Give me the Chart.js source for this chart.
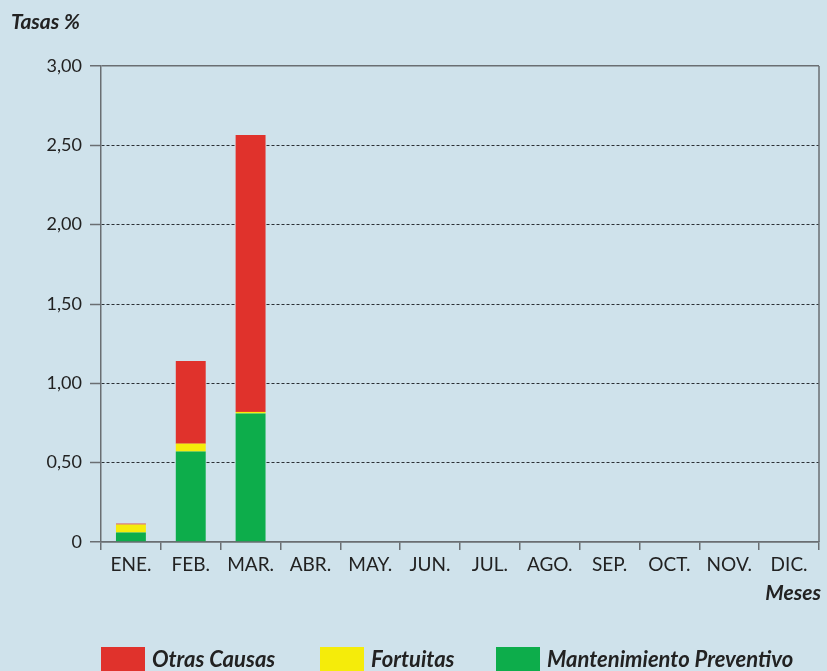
<!DOCTYPE html>
<html>
<head>
<meta charset="utf-8">
<script src="https://cdn.jsdelivr.net/npm/chart.js@4/dist/chart.umd.min.js"></script>
<style>
  html, body { margin: 0; padding: 0; background: #cfe2eb; }
  #wrap { position: relative; width: 827px; height: 671px; overflow: hidden; font-family: Lato, "Open Sans", sans-serif; color: #222; }
  #grafico { position: absolute; left: 0; top: 0; }
  .rotulo { position: absolute; font-weight: bold; font-style: italic; font-size: 21px; line-height: 24px; }
  .leyenda { position: absolute; top: 647px; height: 24px; display: flex; align-items: center; font-weight: bold; font-style: italic; font-size: 22px; line-height: 24px; }
  .leyenda span.caja { display: inline-block; width: 44px; height: 24px; margin-right: 7px; }
</style>
</head>
<body>
<div id="wrap">
  <canvas id="grafico" width="827" height="671"></canvas>
  <div class="rotulo" style="left:11px; top:9px;">Tasas %</div>
  <div class="rotulo" style="right:6px; top:580px;">Meses</div>
  <div id="leyendas"></div>
</div>
<script>
const meses = ['ENE.', 'FEB.', 'MAR.', 'ABR.', 'MAY.', 'JUN.', 'JUL.', 'AGO.', 'SEP.', 'OCT.', 'NOV.', 'DIC.'];
const mantenimiento = [0.06, 0.57, 0.81, null, null, null, null, null, null, null, null, null];
const fortuitas = [0.05, 0.05, 0.01, null, null, null, null, null, null, null, null, null];
const otras = [0.006, 0.52, 1.745, null, null, null, null, null, null, null, null, null];
const yTicks = [0, 0.5, 1, 1.5, 2, 2.5, 3];
const yLabels = ['0', '0,50', '1,00', '1,50', '2,00', '2,50', '3,00'];

const rojo = '#e0322c', amarillo = '#f5ec0a', verde = '#0dad4b';

// leyenda (orden de la imagen)
const leyenda = [
    { texto: 'Otras Causas', color: rojo, x: 101 },
    { texto: 'Fortuitas', color: amarillo, x: 320 },
    { texto: 'Mantenimiento Preventivo', color: verde, x: 496 }
];
const cont = document.getElementById('leyendas');
leyenda.forEach(l => {
    const d = document.createElement('div');
    d.className = 'leyenda';
    d.style.left = l.x + 'px';
    d.innerHTML = `<span class="caja" style="background:${l.color}"></span>${l.texto}`;
    cont.appendChild(d);
});

const bordeDerecho = {
    id: 'bordeDerecho',
    afterDraw(chart) {
        const { ctx, chartArea } = chart;
        ctx.save();
        ctx.strokeStyle = '#6a6e72';
        ctx.lineWidth = 1.5;
        ctx.beginPath();
        ctx.moveTo(chartArea.right, chartArea.top);
        ctx.lineTo(chartArea.right, chartArea.bottom);
        ctx.stroke();
        ctx.restore();
    }
};

const familia = 'Lato, "Open Sans", sans-serif';

const config = {
    type: 'bar',
    data: {
        labels: meses,
        datasets: [
            { label: 'Mantenimiento Preventivo', data: mantenimiento, backgroundColor: verde },
            { label: 'Fortuitas', data: fortuitas, backgroundColor: amarillo },
            { label: 'Otras Causas', data: otras, backgroundColor: rojo }
        ]
    },
    options: {
        responsive: false,
        animation: false,
        layout: { padding: { top: 66, right: 8, left: 0, bottom: 0 } },
        datasets: { bar: { barPercentage: 0.5, categoryPercentage: 1 } },
        plugins: { legend: { display: false }, tooltip: { enabled: false } },
        scales: {
            x: {
                stacked: true,
                grid: { display: true, drawOnChartArea: false, drawTicks: true, tickLength: 8, color: '#6a6e72', lineWidth: 1.5, offset: true },
                border: { color: '#6a6e72', width: 1.5 },
                ticks: { color: '#222', font: { family: familia, size: 19 }, padding: 3, maxRotation: 0, autoSkip: false },
                afterFit: s => { s.height = 129; }
            },
            y: {
                stacked: true,
                min: 0,
                max: 3,
                afterBuildTicks: s => { s.ticks = yTicks.map(v => ({ value: v })); },
                grid: {
                    color: c => c.tick && (c.tick.value === 3 || c.tick.value === 0) ? '#6a6e72' : '#2b3035',
                    lineWidth: c => c.tick && (c.tick.value === 3 || c.tick.value === 0) ? 1.5 : 1,
                    tickColor: '#6a6e72',
                    tickWidth: 1.5,
                    tickLength: 11
                },
                border: {
                    color: '#6a6e72',
                    width: 1.5,
                    dash: c => c.tick && c.tick.value > 0 && c.tick.value < 3 ? [3, 2] : []
                },
                ticks: {
                    color: '#222',
                    font: { family: familia, size: 18 },
                    padding: 8,
                    callback: v => yLabels[yTicks.indexOf(v)]
                },
                afterFit: s => { s.width = 101; }
            }
        }
    },
    plugins: [bordeDerecho]
};

const myChart = new Chart(document.getElementById('grafico'), config);
</script>
</body>
</html>
